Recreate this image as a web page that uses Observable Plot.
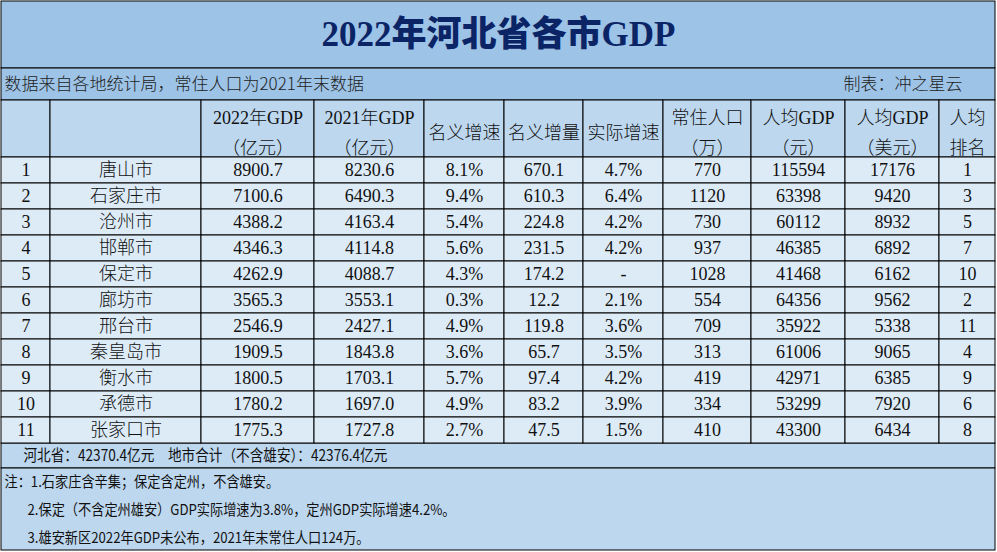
<!DOCTYPE html>
<html><head><meta charset="utf-8">
<script src="https://cdn.jsdelivr.net/npm/d3@7"></script>
<script src="https://cdn.jsdelivr.net/npm/@observablehq/plot@0.6"></script>
<style>html,body{margin:0;padding:0;background:#fff}#chart svg{display:block}
.narrow{transform-box:fill-box;transform-origin:0 50%;transform:scaleX(0.88)}</style>
</head><body><div id="chart"></div>
<script>
// ---------- data ----------
const title = "2022年河北省各市GDP";
const subtitle = "数据来自各地统计局，常住人口为2021年末数据";
const credit = "制表：冲之星云";
const headers = ["", "", "2022年GDP\n（亿元）", "2021年GDP\n（亿元）", "名义增速", "名义增量", "实际增速", "常住人口\n（万）", "人均GDP\n（元）", "人均GDP\n（美元）", "人均\n排名"];
const ranks = [1, 2, 3, 4, 5, 6, 7, 8, 9, 10, 11];
const cities = ["唐山市", "石家庄市", "沧州市", "邯郸市", "保定市", "廊坊市", "邢台市", "秦皇岛市", "衡水市", "承德市", "张家口市"];
const gdp2022 = [8900.7, 7100.6, 4388.2, 4346.3, 4262.9, 3565.3, 2546.9, 1909.5, 1800.5, 1780.2, 1775.3];
const gdp2021 = [8230.6, 6490.3, 4163.4, 4114.8, 4088.7, 3553.1, 2427.1, 1843.8, 1703.1, 1697.0, 1727.8];
const nominalGrowth = [8.1, 9.4, 5.4, 5.6, 4.3, 0.3, 4.9, 3.6, 5.7, 4.9, 2.7];
const nominalIncrease = [670.1, 610.3, 224.8, 231.5, 174.2, 12.2, 119.8, 65.7, 97.4, 83.2, 47.5];
const realGrowth = [4.7, 6.4, 4.2, 4.2, null, 2.1, 3.6, 3.5, 4.2, 3.9, 1.5];
const population = [770, 1120, 730, 937, 1028, 554, 709, 313, 419, 334, 410];
const perCapitaCNY = [115594, 63398, 60112, 46385, 41468, 64356, 35922, 61006, 42971, 53299, 43300];
const perCapitaUSD = [17176, 9420, 8932, 6892, 6162, 9562, 5338, 9065, 6385, 7920, 6434];
const perCapitaRank = [1, 3, 5, 7, 10, 2, 11, 4, 9, 6, 8];
const summary = "河北省：42370.4亿元　地市合计（不含雄安）：42376.4亿元";
const notes = ["注：1.石家庄含辛集；保定含定州，不含雄安。", "2.保定（不含定州雄安）GDP实际增速为3.8%，定州GDP实际增速4.2%。", "3.雄安新区2022年GDP未公布，2021年末常住人口124万。"];

// ---------- layout (table geometry) ----------
const W = 997, H = 552;
const colEdges = [1, 50, 201, 314, 424, 504, 583, 663, 751, 845, 939, 995];
const titleBand = [1, 68], subBand = [68, 100], headBand = [100, 157];
const rowH = 26;
const summaryBand = [443, 468], notesBand = [468, 550];
const noteLines = [482, 510, 538];
const L = colEdges[0], R = colEdges[colEdges.length - 1];

const C = {title: "#9DC3E6", head: "#BDD7EE", cell: "#DDEBF7", foot: "#BDD7EE", titleText: "#0B2466"};
const serif = "'Liberation Serif','Noto Sans CJK SC',serif";
const sans = "'Noto Sans CJK SC','Noto Sans',sans-serif";

const f1 = v => v.toFixed(1);
const pct = v => v == null ? "-" : v.toFixed(1) + "%";
const columns = [
  i => String(ranks[i]), i => cities[i], i => f1(gdp2022[i]), i => f1(gdp2021[i]),
  i => pct(nominalGrowth[i]), i => f1(nominalIncrease[i]), i => pct(realGrowth[i]),
  i => String(population[i]), i => String(perCapitaCNY[i]), i => String(perCapitaUSD[i]), i => String(perCapitaRank[i])
];

const bands = [
  {x1: L, x2: R, y1: titleBand[0], y2: titleBand[1], fill: C.title},
  {x1: L, x2: R, y1: subBand[0], y2: subBand[1], fill: C.title},
  {x1: L, x2: R, y1: summaryBand[0], y2: summaryBand[1], fill: C.foot},
  {x1: L, x2: R, y1: notesBand[0], y2: notesBand[1], fill: C.foot}
];
const headCells = headers.map((h, j) => ({x1: colEdges[j], x2: colEdges[j + 1], y1: headBand[0], y2: headBand[1], text: h}));
const bodyCells = [];
cities.forEach((c, i) => {
  columns.forEach((fn, j) => {
    bodyCells.push({x1: colEdges[j], x2: colEdges[j + 1], y1: headBand[1] + i * rowH, y2: headBand[1] + (i + 1) * rowH, text: fn(i)});
  });
});
const footTexts = [
  {text: summary, x: L + 22, y: (summaryBand[0] + summaryBand[1]) / 2, size: 15.5},
  ...notes.map((n, i) => ({text: n, x: i === 0 ? L + 3 : L + 26, y: noteLines[i], size: 15}))
];
const mid = (a, b) => (a + b) / 2;

const chart = Plot.plot({
  width: W, height: H, margin: 0,
  x: {domain: [0, W], range: [0, W], axis: null},
  y: {domain: [0, H], range: [0, H], axis: null},
  style: {background: "#fff"},
  marks: [
    Plot.rect(bands, {x1: "x1", x2: "x2", y1: "y1", y2: "y2", fill: d => d.fill, stroke: "#000", strokeWidth: 1}),
    Plot.rect(headCells, {x1: "x1", x2: "x2", y1: "y1", y2: "y2", fill: C.head, stroke: "#000", strokeWidth: 1}),
    Plot.rect(bodyCells, {x1: "x1", x2: "x2", y1: "y1", y2: "y2", fill: C.cell, stroke: "#000", strokeWidth: 1}),
    Plot.text([title], {x: () => (L + R) / 2, y: () => mid(...titleBand), text: d => d, fontSize: 35, fontWeight: 800, fontFamily: serif, fill: C.titleText}),
    Plot.text([subtitle], {x: () => L + 3, y: () => mid(...subBand), text: d => d, textAnchor: "start", fontSize: 17, fontWeight: 300, fontFamily: sans, fill: "#222"}),
    Plot.text([credit], {x: () => 962, y: () => mid(...subBand), text: d => d, textAnchor: "end", fontSize: 17, fontWeight: 300, fontFamily: sans, fill: "#222"}),
    Plot.text(headCells, {x: d => mid(d.x1, d.x2), y: d => mid(d.y1, d.y2), text: "text", fontSize: 18, fontWeight: 300, lineHeight: 1.67, fontFamily: serif, fill: "#111"}),
    Plot.text(bodyCells, {x: d => mid(d.x1, d.x2), y: d => mid(d.y1, d.y2), text: "text", fontSize: 18, fontWeight: 300, fontFamily: serif, fill: "#111"}),
    Plot.text(footTexts.slice(0, 1), {x: "x", y: "y", text: "text", textAnchor: "start", fontSize: 15.5, fontFamily: sans, fill: "#111"}),
    Plot.text(footTexts.slice(1), {x: "x", y: "y", text: "text", textAnchor: "start", fontSize: 15, fontFamily: sans, fill: "#111"})
  ]
});

// horizontally condense the footer texts (narrow font look of the original)
const narrowSet = new Set(footTexts.map(d => d.text));
chart.querySelectorAll("text").forEach(t => {
  if (!narrowSet.has(t.textContent)) return;
  const g = document.createElementNS("http://www.w3.org/2000/svg", "g");
  g.setAttribute("class", "narrow");
  t.parentNode.insertBefore(g, t);
  g.appendChild(t);
});
document.getElementById("chart").appendChild(chart);
</script>
</body></html>
